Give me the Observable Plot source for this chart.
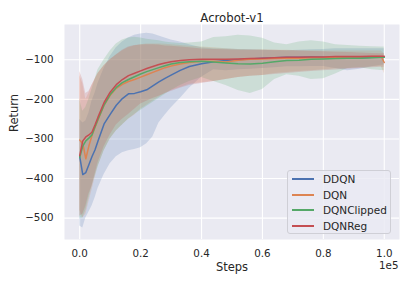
<!DOCTYPE html>
<html>
<head>
<meta charset="utf-8">
<script src="https://cdn.jsdelivr.net/npm/d3@7"></script>
<script src="https://cdn.jsdelivr.net/npm/@observablehq/plot@0.6"></script>
<style>
  body { margin: 0; background: #fff; }
  #wrap { position: relative; width: 411px; height: 284px; font-family: "DejaVu Sans", sans-serif; }
  #legend { position: absolute; left: 287px; top: 170px; width: 104px; height: 64px;
    background: rgba(234,234,242,0.8); border: 1px solid #cfcfd6; border-radius: 3px; box-sizing: border-box; }
  .row { position: absolute; left: 4px; height: 14px; display: flex; align-items: center; font-size: 10.5px; color: #262626; }
  .sw { width: 22px; height: 2px; margin-right: 9px; }
</style>
</head>
<body>
<div id="wrap"><div id="legend"></div></div>
<script>
const title = "Acrobot-v1";
const xLabel = "Steps";
const yLabel = "Return";
const seriesNames = ["DDQN", "DQN", "DQNClipped", "DQNReg"];
const seriesColors = ["#4c72b0", "#dd8452", "#55a868", "#c44e52"];
const xTicks = [0, 20000, 40000, 60000, 80000, 100000];
const yTicks = [-500, -400, -300, -200, -100];

const steps = [0,1000,2000,3000,4000,5000,6000,8000,10000,12000,14000,16000,18000,20000,22000,24000,26000,28000,30000,33000,36000,40000,44000,48000,52000,56000,60000,64000,68000,72000,76000,80000,84000,88000,92000,96000,99000,100000];

const ddqnMean = [-345,-390,-385,-365,-345,-328,-305,-262,-238,-215,-198,-186,-185,-181,-176,-166,-156,-147,-139,-127,-117,-110,-105,-102,-100,-98,-96,-95,-94,-94,-93,-94,-95,-96,-95,-94,-93,-93];
const ddqnLow  = [-520,-525,-500,-485,-470,-450,-425,-390,-363,-345,-335,-330,-327,-322,-312,-295,-260,-240,-222,-198,-172,-144,-125,-128,-125,-124,-122,-120,-118,-118,-117,-117,-122,-128,-124,-118,-114,-113];
const ddqnHigh = [-250,-260,-255,-235,-205,-185,-160,-122,-92,-70,-55,-45,-38,-35,-33,-35,-40,-45,-50,-55,-62,-70,-72,-73,-74,-75,-76,-77,-77,-76,-75,-74,-72,-72,-72,-72,-72,-72];

const dqnMean = [-303,-312,-350,-318,-292,-272,-252,-215,-190,-172,-162,-155,-150,-144,-138,-132,-126,-120,-116,-111,-107,-104,-104,-106,-101,-99,-98,-97,-96,-96,-95,-95,-94,-93,-93,-92,-92,-107];
const dqnLow  = [-480,-500,-490,-460,-430,-400,-370,-330,-300,-280,-265,-250,-240,-225,-215,-205,-195,-185,-178,-170,-162,-158,-155,-150,-145,-142,-140,-135,-132,-130,-128,-125,-123,-122,-120,-118,-117,-135];
const dqnHigh = [-140,-160,-200,-185,-165,-150,-135,-115,-100,-88,-78,-70,-65,-62,-60,-60,-60,-61,-62,-64,-66,-68,-70,-72,-74,-75,-75,-76,-76,-77,-77,-78,-78,-78,-78,-78,-78,-85];

const clipMean = [-347,-318,-305,-298,-290,-270,-250,-214,-188,-170,-158,-150,-143,-136,-130,-125,-120,-115,-111,-107,-105,-104,-106,-108,-110,-111,-109,-105,-102,-101,-99,-98,-97,-96,-96,-95,-94,-94];
const clipLow  = [-500,-500,-480,-450,-420,-395,-370,-330,-300,-280,-265,-250,-238,-228,-218,-208,-198,-188,-178,-165,-155,-145,-155,-165,-178,-185,-175,-150,-138,-142,-150,-148,-136,-122,-120,-125,-127,-127];
const clipHigh = [-200,-230,-220,-200,-175,-150,-125,-100,-78,-60,-50,-45,-43,-45,-48,-50,-52,-55,-57,-59,-58,-55,-44,-42,-38,-40,-46,-58,-62,-55,-52,-55,-62,-64,-66,-67,-68,-68];

const regMean = [-342,-305,-295,-290,-283,-265,-245,-208,-182,-163,-150,-140,-134,-128,-122,-117,-112,-108,-105,-102,-100,-99,-99,-99,-98,-97,-96,-95,-94,-94,-93,-93,-92,-92,-92,-91,-91,-91];
const regLow  = [-495,-490,-470,-440,-420,-390,-360,-320,-290,-265,-250,-238,-225,-212,-205,-198,-192,-186,-180,-172,-165,-160,-155,-150,-145,-142,-140,-137,-135,-132,-130,-128,-126,-124,-122,-120,-119,-119];
const regHigh = [-130,-150,-185,-180,-165,-150,-135,-115,-100,-88,-76,-68,-64,-63,-62,-62,-63,-65,-66,-68,-70,-73,-74,-75,-76,-76,-76,-76,-77,-78,-79,-80,-81,-82,-83,-84,-85,-85];

const seriesData = [
  [ddqnMean, ddqnLow, ddqnHigh],
  [dqnMean, dqnLow, dqnHigh],
  [clipMean, clipLow, clipHigh],
  [regMean, regLow, regHigh]
];
const rows = [];
seriesNames.forEach((name, i) => {
  const [m, lo, hi] = seriesData[i];
  steps.forEach((s, j) => rows.push({series: name, step: s, mean: m[j], lo: lo[j], hi: hi[j]}));
});

const ink = "#262626";
const fmtX = d => (d / 1e5).toFixed(1);
const fmtY = d => (d < 0 ? "\u2212" : "") + Math.abs(d);
const chart = Plot.plot({
  width: 411, height: 284,
  marginLeft: 64, marginRight: 12, marginTop: 24, marginBottom: 45,
  style: {fontFamily: "DejaVu Sans, sans-serif", fontSize: "10px", color: ink, background: "#fff"},
  x: {domain: [-5000, 105000], ticks: xTicks, tickFormat: fmtX, label: null},
  y: {domain: [-554, -11], ticks: yTicks, tickFormat: fmtY, label: null},
  color: {domain: seriesNames, range: seriesColors},
  marks: [
    Plot.frame({fill: "#eaeaf2", stroke: null}),
    Plot.gridX(xTicks, {stroke: "#fff", strokeOpacity: 1, strokeWidth: 1.1}),
    Plot.gridY(yTicks, {stroke: "#fff", strokeOpacity: 1, strokeWidth: 1.1}),
    Plot.axisX(xTicks, {tickSize: 0, tickPadding: 10, fontSize: 10.3, tickFormat: fmtX, label: null}),
    Plot.axisY(yTicks, {tickSize: 0, tickPadding: 11, fontSize: 10.3, tickFormat: fmtY, label: null}),
    Plot.areaY(rows, {x: "step", y1: "lo", y2: "hi", z: "series", fill: "series", fillOpacity: 0.2}),
    Plot.lineY(rows, {x: "step", y: "mean", z: "series", stroke: "series", strokeWidth: 1.5}),
    Plot.text([title], {frameAnchor: "top", dy: -11, fontSize: 11.7, fill: ink}),
    Plot.text([xLabel], {frameAnchor: "bottom", dy: 31, fontSize: 11.5, fill: ink}),
    Plot.text([yLabel], {frameAnchor: "left", dx: -50, rotate: -90, fontSize: 11.5, fill: ink}),
    Plot.text(["1e5"], {frameAnchor: "bottom-right", dy: 29, dx: -1, textAnchor: "end", fontSize: 10.3, fill: ink})
  ]
});
document.getElementById("wrap").prepend(chart);

const legend = document.getElementById("legend");
seriesNames.forEach((name, i) => {
  const row = document.createElement("div");
  row.className = "row";
  row.style.top = (1 + i * 15.7) + "px";
  const sw = document.createElement("span");
  sw.className = "sw";
  sw.style.background = seriesColors[i];
  const label = document.createElement("span");
  label.textContent = name;
  row.append(sw, label);
  legend.append(row);
});
</script>
</body>
</html>
